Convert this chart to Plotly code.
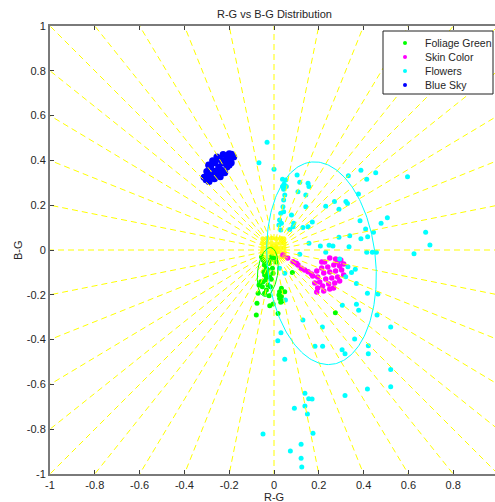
import math
import plotly.graph_objects as go

# ---------------- text ----------------
title_text = "R-G vs B-G Distribution"
x_label = "R-G"
y_label = "B-G"
tick_values = [-1, -0.8, -0.6, -0.4, -0.2, 0, 0.2, 0.4, 0.6, 0.8, 1]
tick_labels = ["-1", "-0.8", "-0.6", "-0.4", "-0.2", "0", "0.2", "0.4", "0.6", "0.8", "1"]

series_names = ["Foliage Green", "Skin Color", "Flowers", "Blue Sky"]
series_colors = ["#00ff00", "#ff00ff", "#00ffff", "#0000ff"]

# ---------------- data ----------------
neutral_x = [-0.050, -0.030, -0.010, 0.010, 0.030, 0.046,
             -0.052, -0.031, -0.011, 0.011, 0.031, 0.046,
             -0.050, -0.030, -0.010, 0.010, 0.030, 0.045,
             -0.051, -0.031, -0.011, 0.011, 0.029, 0.045,
             -0.050, -0.030, -0.010, 0.010, 0.030, 0.044]
neutral_y = [-0.030, -0.031, -0.030, -0.032, -0.030, -0.030,
             -0.010, -0.011, -0.010, -0.009, -0.010, -0.011,
             0.010, 0.011, 0.010, 0.010, 0.009, 0.010,
             0.030, 0.031, 0.030, 0.029, 0.030, 0.031,
             0.050, 0.051, 0.052, 0.050, 0.051, 0.050]

green_x = [-0.056, -0.049, -0.042, -0.019, -0.027, -0.034, -0.059, -0.067, -0.052, -0.071,
           -0.022, 0.025, 0.022, 0.033, -0.019, 0.018, -0.079, 0.082, 0.274, -0.043,
           -0.034, -0.046, -0.027, -0.019, -0.037, -0.049, -0.027, -0.016, -0.034, -0.042,
           -0.012, -0.004, -0.007, -0.022, -0.016, -0.042, -0.064, -0.076, -0.004, 0.033,
           0.048, 0.025, 0.030, 0.038, -0.001, 0.008, -0.010]
green_y = [-0.030, -0.045, -0.052, -0.059, -0.089, -0.119, -0.142, -0.156, -0.164, -0.193,
           -0.204, -0.186, -0.201, -0.208, -0.249, -0.283, -0.290, -0.101, -0.280, -0.067,
           -0.082, -0.097, -0.104, -0.119, -0.134, -0.142, -0.156, -0.164, -0.179, -0.193,
           -0.131, -0.104, -0.082, -0.059, -0.045, -0.112, -0.156, -0.238, -0.241, -0.171,
           -0.186, -0.216, -0.233, -0.228, -0.036, -0.054, -0.027]

skin_x = [0.040, 0.061, 0.085, 0.100, 0.107, 0.122, 0.137, 0.152, 0.167,
          0.226, 0.249, 0.275, 0.298, 0.311, 0.293, 0.267, 0.240, 0.213, 0.191,
          0.173, 0.195, 0.222, 0.249, 0.275, 0.302, 0.311, 0.284, 0.258, 0.231,
          0.204, 0.182, 0.195, 0.217, 0.244, 0.271, 0.293, 0.249, 0.222, 0.191,
          0.266, 0.213, 0.284]
skin_y = [-0.022, -0.036, -0.052, -0.059, -0.067, -0.082, -0.089, -0.097, -0.107,
          -0.054, -0.036, -0.040, -0.045, -0.063, -0.071, -0.067, -0.076, -0.080, -0.094,
          -0.116, -0.121, -0.103, -0.098, -0.094, -0.089, -0.112, -0.121, -0.125, -0.129,
          -0.143, -0.147, -0.170, -0.161, -0.152, -0.147, -0.138, -0.174, -0.183, -0.188,
          -0.170, -0.054, -0.054]

flowers_x = [-0.031, -0.067, 0.000, 0.103, 0.038, 0.052, 0.045, 0.038, 0.055, 0.043,
             0.115, 0.152, 0.156, 0.107, 0.142, 0.048, 0.043, 0.388, 0.454, 0.596,
             0.414, 0.332, 0.377, 0.321, 0.328, 0.270, 0.231, 0.142, 0.290, 0.171,
             0.384, 0.478, 0.506, 0.129, 0.152, 0.409, 0.444, 0.677, 0.418, 0.388,
             0.338, 0.290, 0.696, 0.156, 0.207, 0.246, 0.263, 0.335, 0.414, 0.439,
             0.457, 0.625, 0.231, 0.293, 0.040, 0.043, 0.030, 0.078, 0.025, 0.033,
             0.022, 0.030, 0.085, 0.070, 0.088, 0.000, 0.115, 0.025, 0.048, 0.330,
             0.346, 0.363, 0.320, 0.417, 0.464, 0.051, 0.368, 0.305, 0.368, 0.378,
             0.460, 0.129, 0.216, 0.521, 0.031, 0.360, 0.017, 0.183, 0.217, 0.421,
             0.304, 0.317, 0.421, 0.048, 0.521, 0.521, 0.417, 0.317, 0.138, 0.155,
             0.170, 0.091, 0.138, 0.149, -0.049, 0.174, 0.121, 0.073, 0.121, 0.124]
flowers_y = [0.481, 0.390, 0.360, 0.335, 0.316, 0.313, 0.293, 0.283, 0.283, 0.271,
             0.302, 0.298, 0.283, 0.260, 0.246, 0.246, 0.223, 0.356, 0.345, 0.327,
             0.316, 0.332, 0.250, 0.216, 0.208, 0.216, 0.195, 0.193, 0.182, 0.125,
             0.131, 0.119, 0.144, 0.101, 0.104, 0.094, 0.079, 0.079, 0.059, 0.050,
             0.064, 0.057, 0.022, 0.030, 0.018, 0.021, 0.018, 0.015, -0.010, -0.010,
             -0.010, -0.017, -0.010, -0.040, 0.193, 0.171, 0.164, 0.156, 0.134, 0.119,
             0.112, 0.089, 0.104, 0.092, 0.119, 0.003, -0.019, -0.082, -0.104, -0.075,
             -0.101, -0.086, -0.119, -0.193, -0.196, -0.223, -0.149, -0.247, -0.242, -0.269,
             -0.290, -0.313, -0.344, -0.344, -0.369, -0.397, -0.405, -0.430, -0.430, -0.427,
             -0.445, -0.463, -0.463, -0.488, -0.534, -0.610, -0.621, -0.650, -0.640, -0.664,
             -0.665, -0.707, -0.696, -0.732, -0.821, -0.818, -0.867, -0.897, -0.930, -0.969]

sky_x = [-0.190, -0.200, -0.180, -0.195,
         -0.209, -0.191, -0.227, -0.215, -0.205,
         -0.228, -0.210, -0.246, -0.200, -0.255, -0.235,
         -0.247, -0.229, -0.265, -0.220, -0.274, -0.240,
         -0.265, -0.247, -0.283, -0.240, -0.292, -0.260,
         -0.284, -0.266, -0.300, -0.275, -0.295,
         -0.303, -0.290, -0.312, -0.300]
sky_y = [0.427, 0.430, 0.415, 0.410,
         0.408, 0.390, 0.426, 0.395, 0.420,
         0.389, 0.371, 0.407, 0.380, 0.415, 0.400,
         0.371, 0.353, 0.389, 0.345, 0.398, 0.360,
         0.352, 0.334, 0.370, 0.327, 0.380, 0.340,
         0.333, 0.318, 0.350, 0.322, 0.340,
         0.314, 0.306, 0.325, 0.325]

# fitted ellipses: centre x, centre y, semi-major, semi-minor, tilt (deg, + leans left at top)
flowers_ellipse = (0.212, -0.059, 0.454, 0.242, 5.5)
foliage_ellipse = (-0.028, -0.098, 0.110, 0.045, -7.0)

# radial guide lines go from the origin to each boundary tick
ray_ticks = [-1, -0.8, -0.6, -0.4, -0.2, 0, 0.2, 0.4, 0.6, 0.8, 1]

# ---------------- figure ----------------
FONT = "Liberation Sans, Arial, Helvetica, sans-serif"
fig = go.Figure()

def add_points(xs, ys, color, size, opacity=1.0):
    fig.add_trace(go.Scatter(x=xs, y=ys, mode="markers",
                             marker=dict(color=color, size=size, line=dict(width=0),
                                         opacity=opacity),
                             showlegend=False, hoverinfo="skip"))

add_points(neutral_x, neutral_y, "#ffff00", 5, 0.85)
add_points(green_x, green_y, series_colors[0], 5)
add_points(skin_x, skin_y, series_colors[1], 5.5)
add_points(flowers_x, flowers_y, series_colors[2], 5)
add_points(sky_x, sky_y, series_colors[3], 7)

# rays
ends = []
for v in ray_ticks:
    for p in [(v, 1), (v, -1), (1, v), (-1, v)]:
        if p not in ends:
            ends.append(p)
rx, ry = [], []
for ex, ey in ends:
    rx += [0, ex, None]
    ry += [0, ey, None]
fig.add_trace(go.Scatter(x=rx, y=ry, mode="lines",
                         line=dict(color="#ffff00", width=1, dash="6px,4px"),
                         showlegend=False, hoverinfo="skip"))

def ellipse(params, color):
    cx, cy, a, b, tilt = params
    phi = math.radians(tilt)
    ux, uy = -math.sin(phi), math.cos(phi)
    vx, vy = math.cos(phi), math.sin(phi)
    xs, ys = [], []
    n = 240
    for i in range(n + 1):
        t = 2 * math.pi * i / n
        xs.append(cx + a * math.cos(t) * ux + b * math.sin(t) * vx)
        ys.append(cy + a * math.cos(t) * uy + b * math.sin(t) * vy)
    fig.add_trace(go.Scatter(x=xs, y=ys, mode="lines",
                             line=dict(color=color, width=1),
                             showlegend=False, hoverinfo="skip"))

ellipse(flowers_ellipse, series_colors[2])
ellipse(foliage_ellipse, series_colors[0])

axis_common = dict(
    showgrid=False, zeroline=False, showline=True, linecolor="#7a7a7a", linewidth=2,
    ticks="inside", ticklen=4, tickwidth=1, tickcolor="#404040",
    tickvals=tick_values, ticktext=tick_labels,
    tickfont=dict(family=FONT, size=11, color="#262626"),
)
fig.update_xaxes(range=[-1, 0.9866], mirror="ticks", **axis_common)
fig.update_yaxes(range=[-1, 1], mirror=False, **axis_common)

# manual MATLAB-style legend
PL, PW, PT, PH = 50, 445, 26, 448
def px(xp):
    return (xp - PL) / PW
def py(yp):
    return (PT + PH - yp) / PH

shapes = [dict(type="rect", xref="paper", yref="paper",
               x0=px(383), x1=px(493), y0=py(94), y1=py(31),
               line=dict(color="#202020", width=1), fillcolor="white", layer="above")]
annotations = []
row_y = [43, 57, 71, 85]
for name, color, yy in zip(series_names, series_colors, row_y):
    shapes.append(dict(type="circle", xref="paper", yref="paper",
                       xsizemode="pixel", ysizemode="pixel",
                       xanchor=px(405), yanchor=py(yy), x0=-2, x1=2, y0=-2, y1=2,
                       fillcolor=color, line=dict(width=0), layer="above"))
    annotations.append(dict(text=name, xref="paper", yref="paper", x=px(423), y=py(yy),
                            xanchor="left", yanchor="middle", showarrow=False,
                            font=dict(family=FONT, size=10.5, color="#262626")))

annotations.append(dict(text=title_text, xref="paper", yref="paper", x=px(274), y=py(14),
                        xanchor="center", yanchor="middle", showarrow=False,
                        font=dict(family=FONT, size=11, color="#262626")))
annotations.append(dict(text=x_label, xref="paper", yref="paper", x=px(274), y=py(497),
                        xanchor="center", yanchor="middle", showarrow=False,
                        font=dict(family=FONT, size=11, color="#262626")))
annotations.append(dict(text=y_label, xref="paper", yref="paper", x=px(18), y=py(250),
                        xanchor="center", yanchor="middle", showarrow=False, textangle=-90,
                        font=dict(family=FONT, size=11, color="#262626")))

fig.update_layout(width=495, height=502,
                  margin=dict(l=50, r=0, t=26, b=28),
                  paper_bgcolor="white", plot_bgcolor="white",
                  showlegend=False, shapes=shapes, annotations=annotations,
                  font=dict(family=FONT, size=11, color="#262626"))

fig.write_html("out.html",
               config={"displayModeBar": False},
               post_script="document.body.style.margin='0';document.body.style.overflow='hidden';")
